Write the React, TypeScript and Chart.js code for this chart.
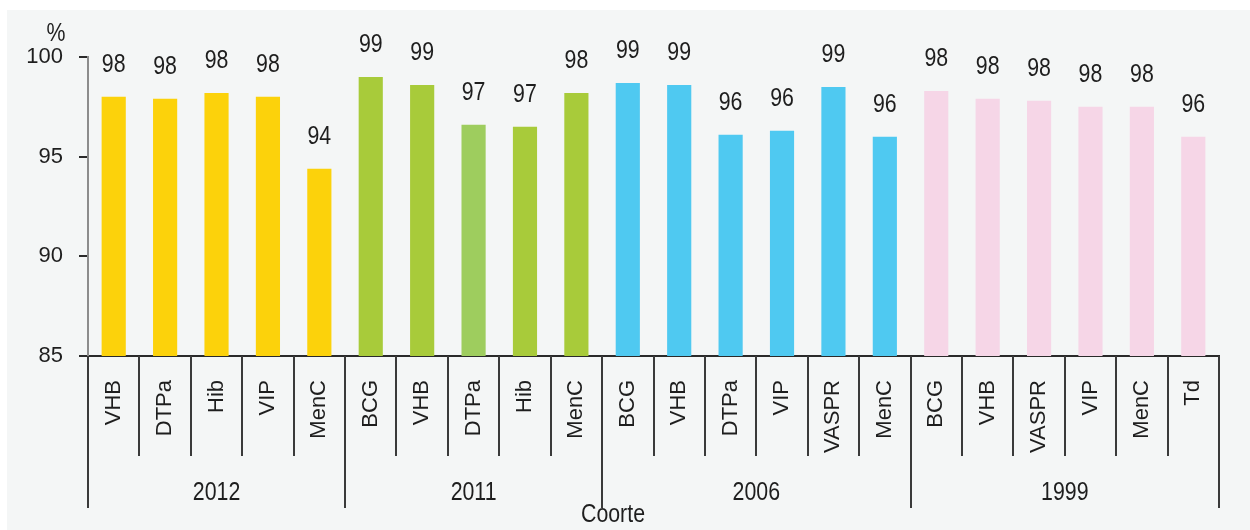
import React, { useEffect, useRef } from "react";
import { Chart, registerables } from "chart.js";

Chart.register(...registerables);

const categories = ["VHB","DTPa","Hib","VIP","MenC","BCG","VHB","DTPa","Hib","MenC","BCG","VHB","DTPa","VIP","VASPR","MenC","BCG","VHB","VASPR","VIP","MenC","Td"];
const coverage = [98.0,97.9,98.2,98.0,94.4,99.0,98.6,96.6,96.5,98.2,98.7,98.6,96.1,96.3,98.5,96.0,98.3,97.9,97.8,97.5,97.5,96.0];
const valueLabels = ["98","98","98","98","94","99","99","97","97","98","99","99","96","96","99","96","98","98","98","98","98","96"];
const cohorts = ["2012","2011","2006","1999"];
const cohortSizes = [5,5,6,6];
const yTicks = [85,90,95,100];

const YELLOW = "#fcd20b";
const GREEN = "#a8cb3a";
const LIGHTGREEN = "#9ecd5e";
const BLUE = "#4fc9f1";
const PINK = "#f6d6e7";
const barColors = [
  YELLOW,YELLOW,YELLOW,YELLOW,YELLOW,
  GREEN,GREEN,LIGHTGREEN,GREEN,GREEN,
  BLUE,BLUE,BLUE,BLUE,BLUE,BLUE,
  PINK,PINK,PINK,PINK,PINK,PINK,
];

const FONT_FAMILY = '"Liberation Sans", Arial, sans-serif';
const TEXT = "#1e1e1e";

function narrowText(ctx: CanvasRenderingContext2D, text: string, x: number, y: number) {
  ctx.save();
  ctx.translate(x, y);
  ctx.scale(0.82, 1);
  ctx.fillText(text, 0, 0);
  ctx.restore();
}

const decorPlugin = {
  id: "decor",
  beforeDraw(chart: any) {
    const ctx = chart.ctx;
    ctx.save();
    ctx.fillStyle = "#ffffff";
    ctx.fillRect(0, 0, chart.width, chart.height);
    ctx.fillStyle = "#f4f6f6";
    ctx.fillRect(7, 10, chart.width - 7, chart.height - 10);
    ctx.restore();
  },
  afterDraw(chart: any) {
    const ctx = chart.ctx;
    const xs = chart.scales.x;
    const area = chart.chartArea;
    const n = categories.length;
    const half = (xs.getPixelForValue(1) - xs.getPixelForValue(0)) / 2;
    const boundary = (k: number) => xs.getPixelForValue(0) - half + k * 2 * half;
    const groupStarts: number[] = [0];
    cohortSizes.forEach((s, i) => groupStarts.push(groupStarts[i] + s));
    ctx.save();
    ctx.strokeStyle = "#3a3a3a";
    ctx.lineWidth = 2;
    for (let k = 0; k <= n; k++) {
      const isGroup = groupStarts.includes(k);
      const x = Math.round(boundary(k));
      ctx.beginPath();
      ctx.moveTo(x, area.bottom);
      ctx.lineTo(x, area.bottom + (isGroup ? 152 : 100));
      ctx.stroke();
    }
    ctx.fillStyle = TEXT;
    ctx.font = `26px ${FONT_FAMILY}`;
    ctx.textAlign = "center";
    ctx.textBaseline = "middle";
    cohorts.forEach((c, i) => {
      const cx = (boundary(groupStarts[i]) + boundary(groupStarts[i + 1])) / 2;
      narrowText(ctx, c, cx, area.bottom + 137);
    });
    narrowText(ctx, "Coorte", 613, 515);
    narrowText(ctx, "%", 56, 34);
    const meta = chart.getDatasetMeta(0);
    meta.data.forEach((bar: any, i: number) => {
      narrowText(ctx, valueLabels[i], bar.x, bar.y - 32);
    });
    ctx.restore();
  },
};

export default function App() {
  const ref = useRef<HTMLCanvasElement | null>(null);
  useEffect(() => {
    document.body.style.margin = "0";
    const canvas = ref.current!;
    const chart = new Chart(canvas, {
      type: "bar",
      data: {
        labels: categories,
        datasets: [
          {
            data: coverage,
            backgroundColor: barColors,
            borderWidth: 0,
            barPercentage: 0.47,
            categoryPercentage: 1,
          },
        ],
      },
      options: {
        animation: false,
        responsive: false,
        maintainAspectRatio: false,
        layout: { padding: { top: 57, right: 31, left: 0, bottom: 0 } },
        plugins: { legend: { display: false }, tooltip: { enabled: false } },
        scales: {
          x: {
            grid: { display: false, drawTicks: false },
            border: { display: true, color: "#2a2a2a", width: 2 },
            ticks: {
              autoSkip: false,
              maxRotation: 90,
              minRotation: 90,
              padding: 24,
              color: TEXT,
              font: { family: FONT_FAMILY, size: 22 },
            },
            afterFit: (s: any) => { s.height = 174; },
          },
          y: {
            min: 85,
            max: 100,
            afterBuildTicks: (s: any) => { s.ticks = yTicks.map((v) => ({ value: v })); },
            grid: { drawOnChartArea: false, drawTicks: true, tickLength: 9, color: "#2a2a2a", lineWidth: 2 },
            border: { display: true, color: "#8c8c8c", width: 2 },
            ticks: {
              padding: 16,
              color: TEXT,
              font: { family: FONT_FAMILY, size: 22 },
            },
            afterFit: (s: any) => { s.width = 88; },
          },
        },
      },
      plugins: [decorPlugin],
    });
    return () => chart.destroy();
  }, []);
  return (
    <div style={{ width: 1250, height: 530 }}>
      <canvas ref={ref} width={1250} height={530} style={{ display: "block", width: 1250, height: 530 }} />
    </div>
  );
}
